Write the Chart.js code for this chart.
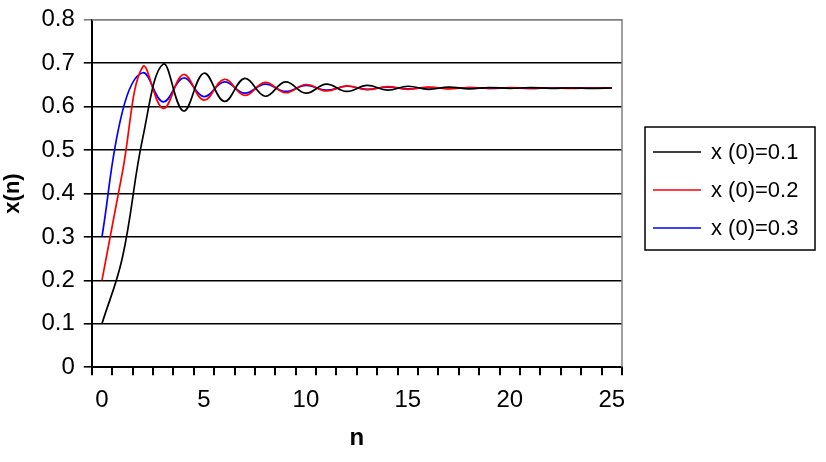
<!DOCTYPE html>
<html>
<head>
<meta charset="utf-8">
<script src="https://cdn.jsdelivr.net/npm/chart.js@4"></script>
<style>
  html, body { margin: 0; padding: 0; background: #fff; }
  #wrap { width: 826px; height: 462px; }
</style>
</head>
<body>
<div id="wrap"><canvas id="chart" width="826" height="462"></canvas></div>
<script>
// ============================================================
// Data
// ============================================================
const nLabels = Array.from({ length: 26 }, (_, i) => String(i));

const seriesNames = ["x (0)=0.1", "x (0)=0.2", "x (0)=0.3"];
const seriesColors = ["#000000", "#ff0000", "#0000ff"];

const x01 = [0.100, 0.252, 0.528, 0.698, 0.590, 0.677, 0.612, 0.665, 0.624, 0.657,
             0.631, 0.652, 0.635, 0.649, 0.638, 0.647, 0.640, 0.645, 0.641, 0.644,
             0.642, 0.644, 0.642, 0.643, 0.642, 0.643];
const x02 = [0.200, 0.448, 0.692, 0.596, 0.674, 0.615, 0.663, 0.626, 0.656, 0.632,
             0.651, 0.636, 0.648, 0.639, 0.646, 0.640, 0.645, 0.641, 0.644, 0.642,
             0.644, 0.642, 0.643, 0.642, 0.643, 0.643];
const x03 = [0.300, 0.588, 0.678, 0.611, 0.666, 0.623, 0.657, 0.631, 0.652, 0.635,
             0.649, 0.638, 0.647, 0.640, 0.645, 0.641, 0.644, 0.642, 0.644, 0.642,
             0.643, 0.642, 0.643, 0.643, 0.643, 0.643];

const yTicks = [0, 0.1, 0.2, 0.3, 0.4, 0.5, 0.6, 0.7, 0.8];
const xTickEvery = 5;

const FONT = "'Liberation Sans', Arial, sans-serif";

// ============================================================
// Plugins: gray frame + boxed legend
// ============================================================
const framePlugin = {
  id: "frame",
  afterDraw(chart) {
    const { ctx, chartArea: a } = chart;
    ctx.save();
    ctx.strokeStyle = "#808080";
    ctx.lineWidth = 1.5;
    ctx.beginPath();
    ctx.moveTo(a.left, a.top);
    ctx.lineTo(a.right, a.top);
    ctx.lineTo(a.right, a.bottom);
    ctx.stroke();
    ctx.restore();
  },
};

const legendBoxPlugin = {
  id: "legendBox",
  afterDraw(chart) {
    const { ctx } = chart;
    const box = { x: 645, y: 127, w: 170, h: 123 };
    ctx.save();
    ctx.strokeStyle = "#000";
    ctx.lineWidth = 1.5;
    ctx.strokeRect(box.x, box.y, box.w, box.h);
    ctx.font = `22px ${FONT}`;
    ctx.textBaseline = "middle";
    ctx.fillStyle = "#000";
    chart.data.datasets.forEach((ds, i) => {
      const y = box.y + 25 + i * 38;
      ctx.strokeStyle = ds.borderColor;
      ctx.lineWidth = 1.5;
      ctx.beginPath();
      ctx.moveTo(653, y);
      ctx.lineTo(701, y);
      ctx.stroke();
      ctx.fillText(ds.label, 711, y + 1);
    });
    ctx.restore();
  },
};

// ============================================================
// Chart
// ============================================================
const seriesData = [x01, x02, x03];

new Chart(document.getElementById("chart"), {
  type: "line",
  data: {
    labels: nLabels,
    datasets: seriesData.map((d, i) => ({
      label: seriesNames[i],
      data: d,
      borderColor: seriesColors[i],
      borderWidth: 1.7,
      pointRadius: 0,
      tension: 0.4,
      fill: false,
    })),
  },
  options: {
    responsive: false,
    animation: false,
    layout: { padding: { left: 0, right: 204, top: 15, bottom: 12 } },
    plugins: {
      legend: { display: false },
      tooltip: { enabled: false },
    },
    scales: {
      x: {
        type: "category",
        offset: true,
        grid: {
          offset: true,
          drawOnChartArea: false,
          color: "#000",
          lineWidth: 2,
          tickLength: 8,
        },
        border: { color: "#000", width: 2 },
        ticks: {
          autoSkip: false,
          maxRotation: 0,
          color: "#000",
          font: { family: FONT, size: 24 },
          padding: 11,
          callback: (v, i) => (i % xTickEvery === 0 ? nLabels[i] : ""),
        },
        title: {
          display: true,
          text: "n",
          color: "#000",
          font: { family: FONT, size: 24, weight: "bold", lineHeight: 1 },
          padding: { top: 0, bottom: 0 },
        },
      },
      y: {
        min: 0,
        max: 0.8,
        afterBuildTicks: (axis) => { axis.ticks = yTicks.map((v) => ({ value: v })); },
        grid: {
          color: (c) => (c.tick && c.tick.value === 0.8 ? "#808080" : "#000"),
          lineWidth: 1.6,
          tickLength: 8,
        },
        border: { color: "#000", width: 2 },
        ticks: {
          color: "#000",
          font: { family: FONT, size: 24, lineHeight: 0.9 },
          padding: 9,
          callback: (v) => String(Math.round(v * 10) / 10),
        },
        title: {
          display: true,
          text: "x(n)",
          color: "#000",
          font: { family: FONT, size: 22, weight: "bold" },
          padding: { top: 0, bottom: 6 },
        },
      },
    },
  },
  plugins: [framePlugin, legendBoxPlugin],
});
</script>
</body>
</html>
